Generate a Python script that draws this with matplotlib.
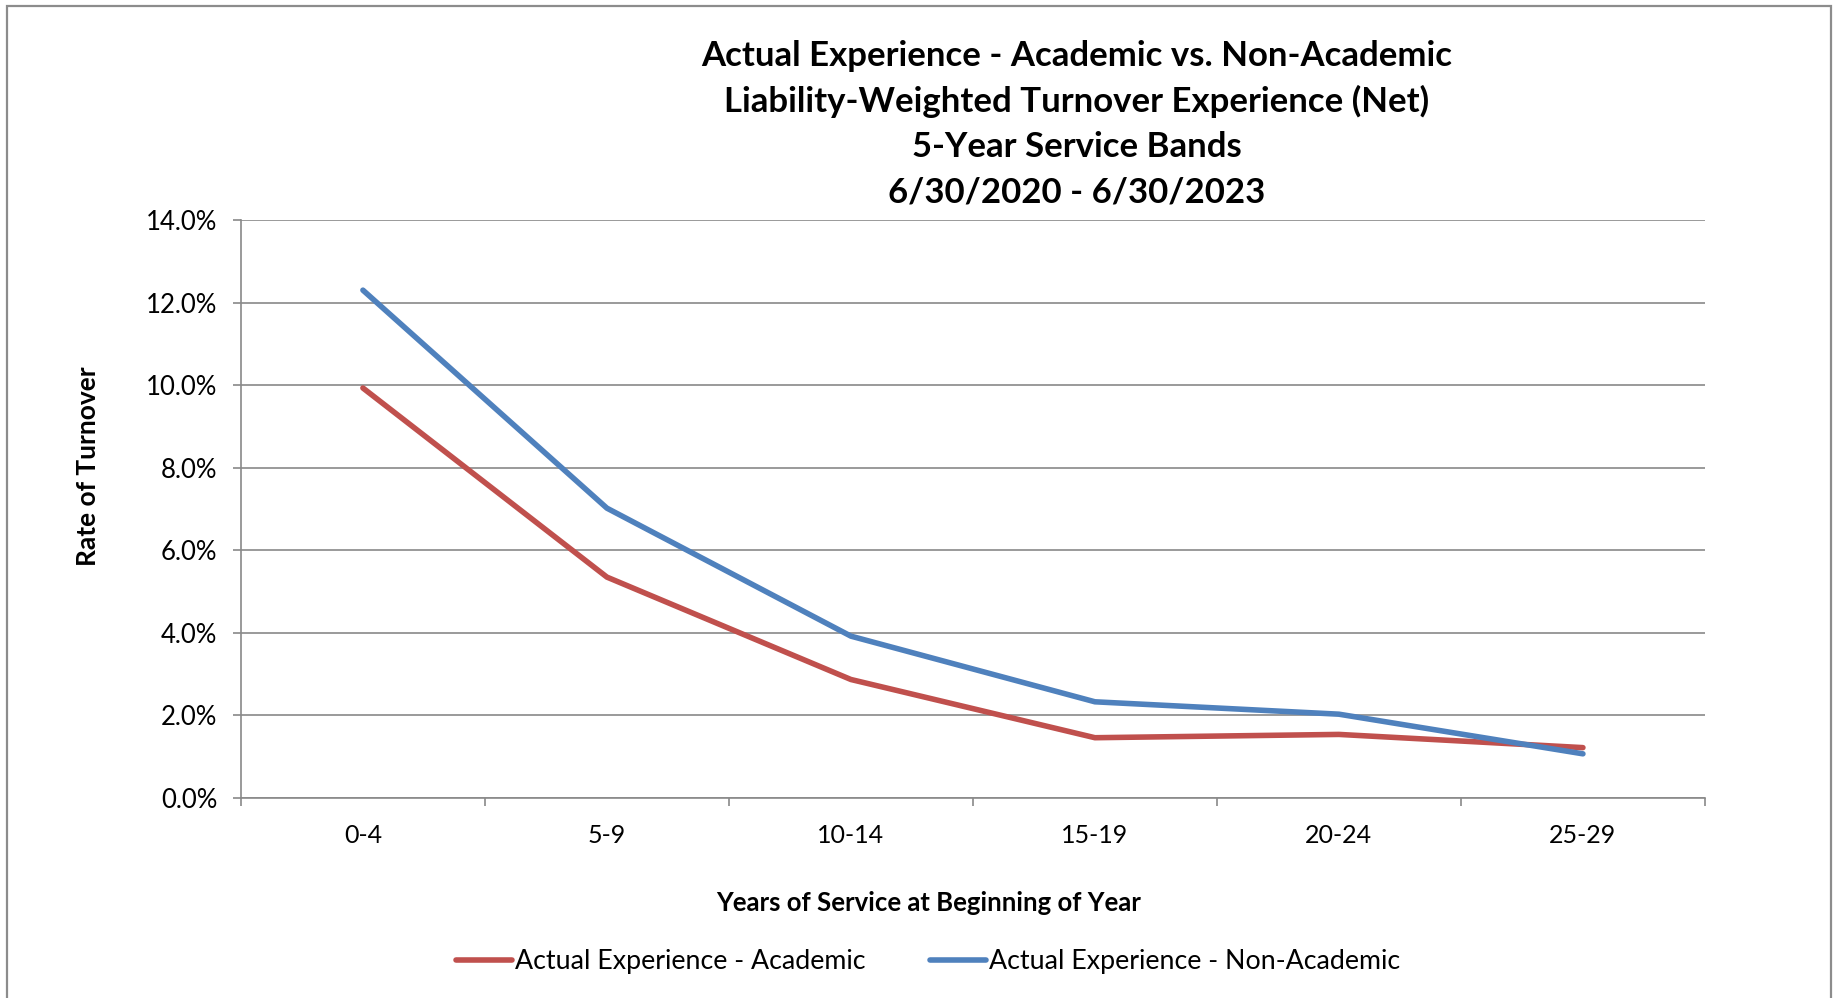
import numpy as np
import matplotlib.pyplot as plt
from matplotlib.patches import Rectangle
from matplotlib.ticker import FixedLocator, NullFormatter, FixedFormatter

plt.rcParams['font.family'] = ['Lato', 'DejaVu Sans']

# Service bands and turnover rates (%)
bands = ['0-4', '5-9', '10-14', '15-19', '20-24', '25-29']
academic = [9.93, 5.35, 2.87, 1.46, 1.54, 1.22]
non_academic = [12.30, 7.02, 3.92, 2.33, 2.03, 1.07]
y_ticks = [0, 2, 4, 6, 8, 10, 12, 14]

title_lines = [
    'Actual Experience - Academic vs. Non-Academic',
    'Liability-Weighted Turnover Experience (Net)',
    '5-Year Service Bands',
    '6/30/2020 - 6/30/2023',
]

RED = '#C0504D'
BLUE = '#4F81BD'
GRID = '#898989'

fig = plt.figure(figsize=(18.39, 9.98), dpi=100)
ax = fig.add_axes([0.1310, 0.2004, 0.7961, 0.5792])

# outer chart frame, open at the bottom edge of the image
fig.patches.append(Rectangle((7 / 1839, -0.05), (1831 - 7) / 1839, 1.05 - 6 / 998,
                             transform=fig.transFigure, fill=False,
                             edgecolor='#8c8c8c', linewidth=1.6))

x = np.arange(len(bands))
l1, = ax.plot(x, academic, color=RED, lw=4.0, solid_capstyle='round',
              solid_joinstyle='round', label='Actual Experience - Academic')
l2, = ax.plot(x, non_academic, color=BLUE, lw=4.0, solid_capstyle='round',
              solid_joinstyle='round', label='Actual Experience - Non-Academic')

ax.set_xlim(-0.5, len(bands) - 0.5)
ax.set_ylim(0, 14)
ax.set_yticks(y_ticks)
ax.set_yticklabels([f'{v:.1f}%' for v in y_ticks])
ax.grid(axis='y', color=GRID, lw=1.2)
ax.set_axisbelow(True)

# category boundaries get tick marks, band names sit between them
ax.xaxis.set_major_locator(FixedLocator(np.arange(-0.5, len(bands), 1.0)))
ax.xaxis.set_major_formatter(NullFormatter())
ax.xaxis.set_minor_locator(FixedLocator(x))
ax.xaxis.set_minor_formatter(FixedFormatter(bands))
ax.tick_params(axis='x', which='major', length=6, width=1.2, color=GRID)
ax.tick_params(axis='x', which='minor', length=0, pad=19, labelsize=18)
ax.tick_params(axis='y', length=6, width=1.2, color=GRID, pad=11, labelsize=18.5)

for side in ['top', 'right']:
    ax.spines[side].set_visible(False)
for side in ['left', 'bottom']:
    ax.spines[side].set_color(GRID)
    ax.spines[side].set_linewidth(1.2)

fig.text(1077 / 1839, 1 - 124 / 998, '\n'.join(title_lines), ha='center', va='center',
         fontsize=25, fontweight='bold', linespacing=1.5)
fig.text(929 / 1839, 1 - 903 / 998, 'Years of Service at Beginning of Year',
         ha='center', va='center', fontsize=18.5, fontweight='bold')
fig.text(88 / 1839, 1 - 466 / 998, 'Rate of Turnover', ha='center', va='center',
         rotation=90, fontsize=19, fontweight='bold')

fig.legend(handles=[l1, l2], loc='center', bbox_to_anchor=(928 / 1839, 1 - 962 / 998),
           ncol=2, frameon=False, fontsize=19.3, handlelength=2.1, handletextpad=0.1,
           columnspacing=2.4)

fig.savefig('out.png', dpi=100)
